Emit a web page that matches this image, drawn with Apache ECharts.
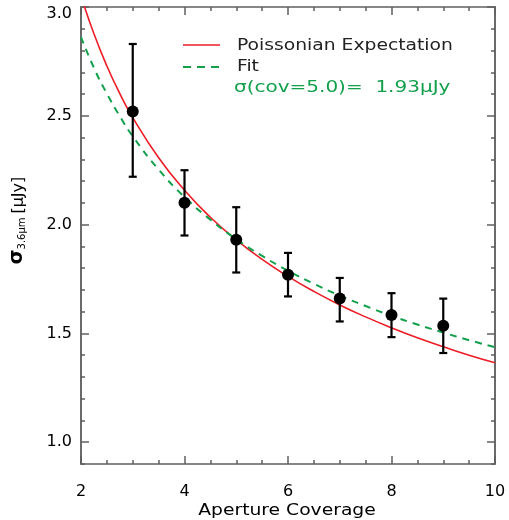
<!DOCTYPE html>
<html><head><meta charset="utf-8">
<script src="https://cdn.jsdelivr.net/npm/echarts@6/dist/echarts.min.js"></script>
<style>html,body{margin:0;padding:0;background:#fff}#c{width:509px;height:520px}</style>
</head><body><div id="c"></div>
<script>
// measured points
const coverage = [3, 4, 5, 6, 7, 8, 9];
const sigma    = [2.52, 2.10, 1.93, 1.77, 1.66, 1.585, 1.535];
const errLow   = [2.22, 1.95, 1.78, 1.67, 1.555, 1.483, 1.41];
const errHigh  = [2.83, 2.25, 2.08, 1.87, 1.755, 1.685, 1.66];
// curves
const curveX   = [2, 2.25, 2.5, 2.75, 3, 3.5, 4, 4.5, 5, 5.5, 6, 6.5, 7, 7.5, 8, 8.5, 9, 9.5, 10];
const poisson  = [3.05, 2.877, 2.729, 2.602, 2.492, 2.307, 2.158, 2.034, 1.93, 1.840, 1.762, 1.693, 1.631, 1.576, 1.526, 1.480, 1.439, 1.400, 1.365];
const fitCurve = [2.862, 2.720, 2.602, 2.498, 2.406, 2.253, 2.127, 2.023, 1.933, 1.856, 1.788, 1.728, 1.674, 1.626, 1.581, 1.541, 1.504, 1.469, 1.437];
// ticks
const yMajor = [1.0, 1.5, 2.0, 2.5, 3.0];
const yMinor = [0.9, 1.1, 1.2, 1.3, 1.4, 1.6, 1.7, 1.8, 1.9, 2.1, 2.2, 2.3, 2.4, 2.6, 2.7, 2.8, 2.9];
const legendNames = ['Poissonian Expectation', 'Fit'];
const fitNote = 'σ(cov=5.0)=  1.93μJy';
const xTitle = 'Aperture Coverage';

const RED = '#ee1c25', GREEN = '#12a04c', AX = '#606060';
const FONT = 'DejaVu Sans';
const SX = 1.17;

const chart = echarts.init(document.getElementById('c'));
const pts = coverage.map((x, i) => [x, sigma[i]]);
const bars = coverage.map((x, i) => [x, errLow[i], errHigh[i]]);

function yAx(pos, custom, len, labels) {
  return {
    type: 'value', position: pos, min: 0.9, max: 3.0,
    axisLine: { show: true, lineStyle: { color: AX, width: 1.5 } },
    splitLine: { show: false },
    axisTick: { show: true, inside: true, length: len, customValues: custom, lineStyle: { color: AX, width: 1.5 } },
    axisLabel: labels ? {
      show: true, customValues: yMajor,
      formatter: v => (v >= 2.99 ? '{t|' + v.toFixed(1) + '}' : v.toFixed(1)),
      rich: { t: { padding: [14, 0, 0, 0], color: '#000', fontSize: 16, fontFamily: FONT } },
      color: '#000', fontSize: 16, fontFamily: FONT, margin: 9
    } : { show: false }
  };
}
function xAx(pos, labels) {
  return {
    type: 'value', position: pos, min: 2, max: 10, interval: 2,
    axisLine: { show: true, lineStyle: { color: AX, width: 1.5 } },
    splitLine: { show: false },
    axisTick: { show: true, inside: true, length: 8, lineStyle: { color: AX, width: 1.5 } },
    minorTick: { show: true, splitNumber: 4, length: 4, lineStyle: { color: AX, width: 1.5 } },
    axisLabel: labels ? { show: true, color: '#000', fontSize: 16, fontFamily: FONT, margin: 20 } : { show: false }
  };
}

const y0 = yAx('left', yMajor, 8, true);
y0.name = '{s|σ}{sub|3.6μm} {n|[μJy]}';
y0.nameLocation = 'middle';
y0.nameGap = 54;
y0.nameTextStyle = {
  color: '#000', fontFamily: FONT, padding: [0, 0, 0, 30],
  rich: {
    s: { fontSize: 19, fontWeight: 'bold', color: '#000', fontFamily: FONT, verticalAlign: 'bottom', lineHeight: 22 },
    sub: { fontSize: 10, color: '#000', fontFamily: FONT, verticalAlign: 'bottom', lineHeight: 14 },
    n: { fontSize: 16, color: '#000', fontFamily: FONT, verticalAlign: 'bottom', lineHeight: 22 }
  }
};

const txt = (text, x, y, fill, sx) => ({
  type: 'text', x: x, y: y, scaleX: sx || SX, z: 10,
  style: { text: text, fill: fill, fontSize: 16, fontFamily: FONT, textAlign: 'left', textVerticalAlign: 'middle' }
});

chart.setOption({
  animation: false,
  backgroundColor: '#fff',
  grid: { left: 80, right: 14, top: 7, bottom: 56 },
  xAxis: [xAx('bottom', true), xAx('top', false)],
  yAxis: [y0, yAx('left', yMinor, 4, false), yAx('right', yMajor, 8, false), yAx('right', yMinor, 4, false)],
  graphic: [
    { type: 'line', z: 10, shape: { x1: 183, y1: 45, x2: 220, y2: 45 }, style: { stroke: RED, lineWidth: 1.6 } },
    txt(legendNames[0], 237, 46, '#222'),
    { type: 'line', z: 10, shape: { x1: 183, y1: 67, x2: 220, y2: 67 }, style: { stroke: GREEN, lineWidth: 2, lineDash: [8, 6] } },
    txt(legendNames[1], 237, 67, '#222'),
    txt(fitNote, 234, 88, GREEN, 1.25),
    { type: 'text', x: 287, y: 511, scaleX: SX, z: 10,
      style: { text: xTitle, fill: '#000', fontSize: 16, fontFamily: FONT, textAlign: 'center', textVerticalAlign: 'middle' } }
  ],
  series: [
    { name: legendNames[1], type: 'line', data: curveX.map((x, i) => [x, fitCurve[i]]), smooth: true, symbol: 'none',
      lineStyle: { color: GREEN, width: 2, type: [7, 6] }, itemStyle: { color: GREEN }, z: 3 },
    { name: legendNames[0], type: 'line', data: curveX.map((x, i) => [x, poisson[i]]), smooth: true, symbol: 'none',
      lineStyle: { color: RED, width: 1.6 }, itemStyle: { color: RED }, z: 2 },
    { type: 'custom', data: bars, z: 4,
      renderItem: (params, api) => {
        const top = api.coord([api.value(0), api.value(2)]);
        const bot = api.coord([api.value(0), api.value(1)]);
        const st = { stroke: '#000', lineWidth: 2.2 };
        return { type: 'group', children: [
          { type: 'line', shape: { x1: top[0], y1: top[1], x2: bot[0], y2: bot[1] }, style: st },
          { type: 'line', shape: { x1: top[0] - 4, y1: top[1], x2: top[0] + 4, y2: top[1] }, style: st },
          { type: 'line', shape: { x1: bot[0] - 4, y1: bot[1], x2: bot[0] + 4, y2: bot[1] }, style: st }
        ] };
      } },
    { type: 'scatter', data: pts, symbolSize: 12, itemStyle: { color: '#000', opacity: 1 }, z: 5 }
  ]
});
</script></body></html>
